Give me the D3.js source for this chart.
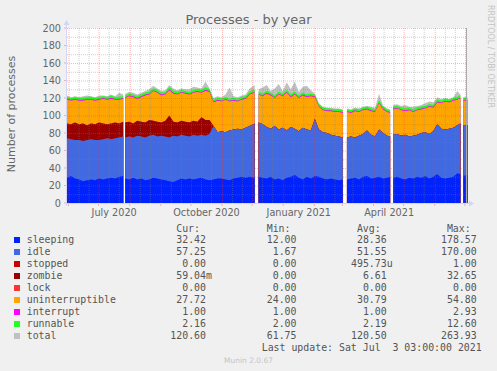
<!DOCTYPE html>
<html>
<head>
<meta charset="utf-8">
<script src="https://cdn.jsdelivr.net/npm/d3@7"></script>
<style>
html, body { margin: 0; padding: 0; background: #f0f0f0; }
svg { display: block; }
text { font-family: "DejaVu Sans", sans-serif; fill: #666; }
.mono { font-family: "DejaVu Sans Mono", monospace; font-size: 9.9px; fill: #555; }
</style>
</head>
<body>
<svg width="497" height="371"></svg>
<script>
// sample positions, in days from the left edge of the graph
const days = [0,4,8,12,16,20,24,28,32,36,40,44,48,52,56,
  58,62,66,70,74,78,82,86,90,94,98,102,106,110,114,118,122,126,130,134,138,142,146,150,154,158,162,166,170,174,178,182,187,
  191,195,199,203,207,211,215,219,223,227,231,235,239,243,247,251,255,259,263,267,271,275,
  279,283,287,291,295,299,303,307,311,315,319,322,
  325,329,333,337,341,345,349,353,357,361,365,369,373,377,381,385,389,392,
  395,399];
// days with no data (white gaps)
const gapDays = [57, 189, 277, 323, 393];

const sleeping = [29,31,28,27,25,26,27,26,28,27,28,29,28,30,31,
  28,27,29,27,28,26,27,29,28,27,26,25,24,26,28,27,28,27,28,29,27,26,27,28,28,27,26,28,29,30,29,30,29,
  30,29,28,30,27,28,26,29,30,32,29,27,30,28,31,30,28,27,28,27,26,27,
  27,28,29,27,30,31,28,29,30,28,29,30,
  29,30,28,27,29,28,30,29,31,28,30,33,29,28,29,30,34,33,
  31,32];
const idle = [45,42,44,45,46,46,46,46,44,46,46,44,46,45,45,
  47,49,46,50,48,49,50,49,48,50,50,50,53,50,50,50,48,51,49,49,50,53,61,53,54,54,57,56,56,54,57,58,62,
  62,61,59,55,61,56,60,54,57,53,53,59,54,55,65,54,53,53,50,50,50,48,
  48,48,46,50,49,52,50,47,54,52,48,46,
  49,49,49,51,47,49,48,51,50,51,52,57,56,56,56,56,55,58,
  58,57];
const stopped = [0,0,0,0,0,0,0,0,0,0,0,0,0,0,0,
  0,0,0,0,0,0,0,0,0,0,0,0,0,0,0,0,0,0,0,0,0,0,0,0,0,0,0,0,0,0,0,0,0,
  0,0,0,0,0,0,0,0,0,0,0,0,0,0,0,0,0,0,0,0,0,0,
  0,0,0,0,0,0,0,0,0,0,0,0,
  0,0,0,0,0,0,0,0,0,0,0,0,0,0,0,0,0,0,
  0,0];
const zombie = [17,17,20,18,20,17,18,18,20,18,16,18,18,16,17,
  17,17,16,17,17,17,18,16,17,15,18,25,16,16,16,16,16,16,16,20,18,16,0,0,0,0,0,0,0,0,0,0,0,
  0,0,0,0,0,0,0,0,0,0,0,0,0,0,0,0,0,0,0,0,0,0,
  0,0,0,0,0,0,0,0,0,0,0,0,
  0,0,0,0,0,0,0,0,0,0,0,0,0,0,0,0,0,0,
  0,0];
const lock = [0,0,0,0,0,0,0,0,0,0,0,0,0,0,0,
  0,0,0,0,0,0,0,0,0,0,0,0,0,0,0,0,0,0,0,0,0,0,0,0,0,0,0,0,0,0,0,0,0,
  0,0,0,0,0,0,0,0,0,0,0,0,0,0,0,0,0,0,0,0,0,0,
  0,0,0,0,0,0,0,0,0,0,0,0,
  0,0,0,0,0,0,0,0,0,0,0,0,0,0,0,0,0,0,
  0,0];
const uninterruptible = [27,27,26,27,26,29,27,27,26,28,28,28,26,27,26,
  28,29,30,25,28,31,29,34,33,31,30,29,32,32,32,32,32,32,34,28,33,32,27,36,34,37,33,33,31,34,33,36,35,
  32,32,38,38,32,40,36,43,34,39,38,37,37,39,25,26,25,25,27,27,28,28,
  29,27,30,27,27,24,27,28,30,27,27,27,
  29,29,29,27,30,27,28,27,27,31,27,25,29,32,30,31,29,29,
  28,28];
const interrupt = [1,1,1,1,1,1,1,1,1,1,1,1.2,1,1,1,
  1,1,1,1,1,1,1,1,1,1,1,1,1,1,1,1,1,1,1,1,1.3,1,1,1,1,1,1,1,1,1,1,1,1,
  1,1,1,1,1,1,1,1,1,1,1,1,1,1,1,1,1,1,1,1,1,1,
  1,1,1,1,1,1,1,1,1,1,1,1,
  1,1,1,1,1,1,1,1,1,1,1,1,1,1,1,1,1,1,
  1,1];
const runnable = [2.2,2.1,2.3,2.2,2.2,2.1,2.4,2.2,2.2,2.3,2.1,2.6,2.2,2.3,2.2,
  2.2,2.3,2.1,2.2,2.4,2.2,2.3,2.2,2.5,2.1,2.2,2.8,2.2,2.3,2.2,2.2,2.1,2.4,2.2,2.3,3.2,2.2,2.1,2.2,2.3,2.2,2.2,2.4,2.2,2.1,2.2,2.3,2.6,
  2.3,2.2,2.4,2.2,2.1,2.3,2.2,2.5,2.2,2.4,2.1,2.2,2.3,2.2,2.2,2.1,2.2,2.2,2.1,2.2,2.3,2.1,
  2.1,2.2,2.1,2.2,2.2,2.3,2.2,2.1,2.6,2.2,2.1,2.1,
  2.2,2.1,2.2,2.2,2.1,2.2,2.3,2.2,2.1,2.2,2.2,2.4,2.2,2.3,2.2,2.2,2.5,2.3,
  2.2,2.2];
const total = [123,121,122,121,122,123,122,121,123,123,122,124,122,126,124,
  125,127,126,124,126,128,130,134,131,128,129,135,131,129,131,130,130,133,132,131,139,131,120,122,121,124,132,122,121,123,124,131,135,
  130,132,135,128,131,136,128,138,130,139,127,133,134,129,125,114,110,109,109,108,108,107,
  108,107,109,108,110,111,110,109,125,111,108,107,
  112,113,111,112,110,110,111,112,114,116,115,121,119,120,119,121,128,124,
  121,121];

const seriesNames = ["sleeping","idle","stopped","zombie","lock","uninterruptible","interrupt","runnable","total"];
const seriesColors = ["#0022ff","#4169e1","#cc0000","#990000","#ff3333","#ffa500","#ff00ff","#22ff22","#c0c0c0"];
const curVals = ["32.42","57.25","0.00","59.04m","0.00","27.72","1.00","2.16","120.60"];
const minVals = ["12.00","1.67","0.00","0.00","0.00","24.00","1.00","2.00","61.75"];
const avgVals = ["28.36","51.55","495.73u","6.61","0.00","30.79","1.00","2.19","120.50"];
const maxVals = ["178.57","170.00","1.00","32.65","0.00","54.80","2.93","12.60","263.93"];

const yTicks = [0,20,40,60,80,100,120,140,160,180,200];
const yMinor = [10,30,50,70,90,110,130,150,170,190];
const xLabels = ["July 2020","October 2020","January 2021","April 2021"];
const xLabelMonths = ["2020-07-01","2020-10-01","2021-01-01","2021-04-01"];

const startDate = new Date(2020, 4, 30, 12);
const endDate = new Date(2021, 6, 3, 3);

const svg = d3.select("svg");
const L = 67, R = 467, T = 28, B = 203;

const x = d3.scaleTime().domain([startDate, endDate]).range([L, R]);
const y = d3.scaleLinear().domain([0, 200]).range([B, T]);

const rows = days.map((d, i) => ({
  date: d3.timeHour.offset(startDate, d * 24),
  sleeping: sleeping[i], idle: idle[i], stopped: stopped[i], zombie: zombie[i], lock: lock[i],
  uninterruptible: uninterruptible[i], interrupt: interrupt[i], runnable: runnable[i], total: total[i]
}));

// split into runs at the gaps
const runs = [];
let cur = [0];
for (let i = 1; i < days.length; i++) {
  if (gapDays.some(g => g > days[i-1] && g < days[i])) { runs.push(cur); cur = []; }
  cur.push(i);
}
runs.push(cur);

svg.append("rect").attr("x", L).attr("y", T).attr("width", R - L).attr("height", B - T).attr("fill", "#fff");

const stackKeys = seriesNames.slice(0, 8);
const stacked = d3.stack().keys(stackKeys)(rows);

const plot = svg.append("g");
const area = d3.area().x(d => x(d.data.date)).y0(y(0)).y1(d => y(d[1]));
const totalArea = d3.area().x(d => x(d.date)).y0(y(0)).y1(d => y(d.total));

runs.forEach(r => {
  plot.append("path").datum(r.map(i => rows[i])).attr("d", totalArea).attr("fill", "#c0c0c0");
});
// paint from the top layer down so each layer fills to zero
stacked.slice().reverse().forEach(layer => {
  const c = seriesColors[seriesNames.indexOf(layer.key)];
  runs.forEach(r => {
    plot.append("path").datum(r.map(i => layer[i])).attr("d", area).attr("fill", c);
  });
});

// grid
const minorCol = "rgba(130,130,130,0.38)", majorCol = "rgba(235,60,60,0.36)";
function styleGrid(g, col) {
  g.select(".domain").remove();
  g.selectAll("line").attr("stroke", col).attr("stroke-dasharray", "1,1");
}
svg.append("g").attr("transform", `translate(${L},0)`)
  .call(d3.axisLeft(y).tickValues(yMinor).tickSize(-(R - L)).tickSizeOuter(0).tickFormat(""))
  .call(g => styleGrid(g, minorCol));
svg.append("g").attr("transform", `translate(${L},0)`)
  .call(d3.axisLeft(y).tickValues(yTicks.slice(1)).tickSize(-(R - L)).tickSizeOuter(0).tickFormat(""))
  .call(g => styleGrid(g, majorCol));

const monthStarts = d3.timeMonth.range(startDate, endDate);
const minorDays = monthStarts.flatMap(m => [d3.timeDay.offset(m, 10), d3.timeDay.offset(m, 20)]).filter(d => d < endDate);
svg.append("g").attr("transform", `translate(0,${B})`)
  .call(d3.axisBottom(x).tickValues(minorDays).tickSize(-(B - T)).tickSizeOuter(0).tickFormat(""))
  .call(g => styleGrid(g, minorCol));
svg.append("g").attr("transform", `translate(0,${B})`)
  .call(d3.axisBottom(x).tickValues(monthStarts).tickSize(-(B - T)).tickSizeOuter(0).tickFormat(""))
  .call(g => styleGrid(g, majorCol));

// small outer ticks
svg.append("g").selectAll("line").data(monthStarts).join("line")
  .attr("x1", d => x(d)).attr("x2", d => x(d)).attr("y1", B).attr("y2", B + 3)
  .attr("stroke", majorCol);
svg.append("g").selectAll("line").data(yTicks).join("line")
  .attr("x1", L - 3).attr("x2", L).attr("y1", d => y(d)).attr("y2", d => y(d))
  .attr("stroke", majorCol);

// right edge line
svg.append("line").attr("x1", R - 0.5).attr("x2", R - 0.5).attr("y1", T).attr("y2", B).attr("stroke", "#a8a8a8");

// axes lines + arrows
const axisCol = "#cfd6f8";
svg.append("line").attr("x1", L - 0.5).attr("x2", L - 0.5).attr("y1", B + 3).attr("y2", T - 4).attr("stroke", axisCol);
svg.append("line").attr("x1", L - 3).attr("x2", R + 3).attr("y1", B + 0.5).attr("y2", B + 0.5).attr("stroke", axisCol);
svg.append("path").attr("d", `M${L - 3.5},${T - 3} L${L - 0.5},${T - 8} L${L + 2.5},${T - 3} Z`).attr("fill", axisCol);
svg.append("path").attr("d", `M${R + 2},${B - 2.5} L${R + 7},${B + 0.5} L${R + 2},${B + 3.5} Z`).attr("fill", axisCol);

// y labels
svg.append("g").attr("transform", `translate(${L},0)`)
  .call(d3.axisLeft(y).tickValues(yTicks).tickSize(0).tickPadding(6))
  .call(g => g.select(".domain").remove())
  .call(g => g.selectAll("text").attr("font-size", "9.7px").attr("font-family", "DejaVu Sans").attr("fill", "#666"));

// x labels
svg.append("g").attr("transform", `translate(0,${B})`)
  .call(d3.axisBottom(x).tickValues(xLabelMonths.map(s => d3.timeDay.offset(new Date(s + "T00:00"), 15)))
    .tickFormat((d, i) => xLabels[i]).tickSize(0).tickPadding(6))
  .call(g => g.select(".domain").remove())
  .call(g => g.selectAll("text").attr("font-size", "9.7px").attr("font-family", "DejaVu Sans").attr("fill", "#666"));

// titles
svg.append("text").attr("x", 248.5).attr("y", 24).attr("text-anchor", "middle")
  .attr("font-size", "13px").text("Processes - by year");
svg.append("text").attr("transform", "translate(14.5,114) rotate(-90)").attr("text-anchor", "middle")
  .attr("font-size", "11px").text("Number of processes");
svg.append("text").attr("transform", "translate(488,5) rotate(90)").attr("font-size", "8px")
  .style("fill", "#c4c4c4").text("RRDTOOL / TOBI OETIKER");

// legend
const cw = 5.96;
const leg = svg.append("g");
const cols = [["Cur:", curVals, 206], ["Min:", minVals, 296.5], ["Avg:", avgVals, 386.7], ["Max:", maxVals, 476.7]];
cols.forEach(([h, vals, edge]) => {
  leg.append("text").attr("class", "mono").attr("x", edge - 5 * cw).attr("y", 232).text(h);
  vals.forEach((v, i) => {
    const hasUnit = /[a-z]$/.test(v);
    leg.append("text").attr("class", "mono").attr("text-anchor", "end")
      .attr("x", hasUnit ? edge + cw : edge).attr("y", 243 + 12 * i).text(v);
  });
});
seriesNames.forEach((n, i) => {
  leg.append("rect").attr("x", 14).attr("y", 237 + 12 * i).attr("width", 6).attr("height", 6).attr("fill", seriesColors[i]);
  leg.append("text").attr("class", "mono").attr("x", 26.7).attr("y", 243 + 12 * i).text(n);
});
leg.append("text").attr("class", "mono").attr("x", 261.7).attr("y", 351)
  .style("white-space", "pre").text("Last update: Sat Jul  3 03:00:00 2021");
svg.append("text").attr("x", 248.5).attr("y", 363).attr("text-anchor", "middle")
  .attr("font-size", "7.5px").style("fill", "#c4c4c4").text("Munin 2.0.67");
</script>
</body>
</html>
